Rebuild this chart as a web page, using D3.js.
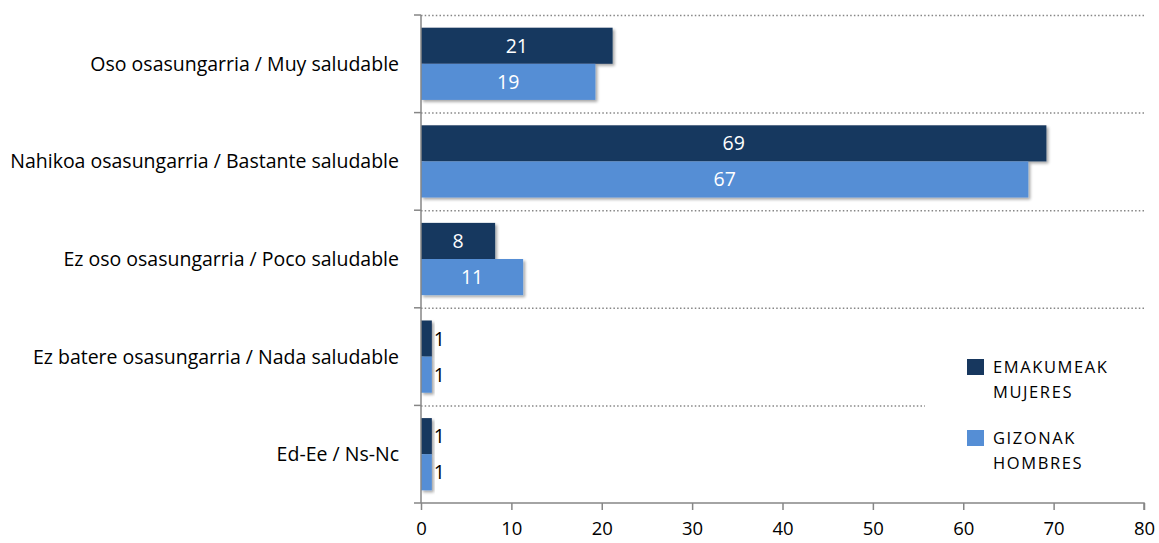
<!DOCTYPE html>
<html><head><meta charset="utf-8">
<script src="https://cdn.jsdelivr.net/npm/d3@7"></script>
<style>body{margin:0;background:#fff}svg{display:block}text{font-family:"Open Sans",sans-serif}</style>
</head><body>
<svg id="c" width="1159" height="543"></svg>
<script>
const categories = ["Oso osasungarria / Muy saludable","Nahikoa osasungarria / Bastante saludable","Ez oso osasungarria / Poco saludable","Ez batere osasungarria / Nada saludable","Ed-Ee / Ns-Nc"];
const seriesNames = ["EMAKUMEAK\nMUJERES","GIZONAK\nHOMBRES"];
const women = [21.2, 69.2, 8.2, 1.2, 1.2];
const men = [19.3, 67.2, 11.3, 1.2, 1.2];
const xTicks = [0,10,20,30,40,50,60,70,80];
const colors = ["#17375E","#558ED5"];

const svg = d3.select("#c");
const m = {l:421, r:1144, t:15, b:503};
const x = d3.scaleLinear().domain([0,80]).range([m.l, m.r]);
const y = d3.scaleBand().domain(categories).range([m.t, m.b]).paddingInner(0.26).paddingOuter(0.13);
const ys = d3.scaleBand().domain([0,1]).range([0, y.bandwidth()]);
const step = y.step();

const defs = svg.append("defs");
const f = defs.append("filter").attr("id","sh").attr("x","-10%").attr("y","-20%").attr("width","130%").attr("height","150%");
f.append("feGaussianBlur").attr("in","SourceAlpha").attr("stdDeviation",1.5);
f.append("feOffset").attr("dx",2).attr("dy",2).attr("result","o");
f.append("feComponentTransfer").append("feFuncA").attr("type","linear").attr("slope",0.35);
const mg = f.append("feMerge"); mg.append("feMergeNode"); mg.append("feMergeNode").attr("in","SourceGraphic");

const bounds = d3.range(categories.length+1).map(i => m.t + i*step);
svg.append("g").selectAll("line").data(bounds.slice(0,-1)).join("line")
  .attr("x1", m.l).attr("x2", (d,i)=> i===4 ? 925 : m.r)
  .attr("y1", d=>d+0.5).attr("y2", d=>d+0.5)
  .attr("stroke","#868686").attr("stroke-width",1.5).attr("stroke-dasharray","1.5,2.2");

const data = categories.map((c,i)=>({c, v:[women[i], men[i]]}));
const g = svg.append("g");
data.forEach(d=>{
  d.v.forEach((v,j)=>{
    const yy = y(d.c)+ys(j);
    g.append("rect").attr("x",x(0)).attr("y",yy).attr("width",x(v)-x(0)).attr("height",ys.bandwidth())
      .attr("fill",colors[j]).attr("filter","url(#sh)");
    const inside = v > 5;
    g.append("text").attr("x", inside ? (x(0)+x(v))/2 : x(v)+2).attr("y", yy+ys.bandwidth()/2)
      .attr("dy","0.36em").attr("text-anchor", inside?"middle":"start")
      .attr("fill", inside?"#fff":"#000").attr("font-size",19.5).text(d3.format(".0f")(v));
  });
});

const ax = svg.append("g").attr("transform",`translate(0,${m.b})`).call(d3.axisBottom(x).tickValues(xTicks).tickSize(7).tickPadding(12));
ax.select(".domain").attr("stroke","#868686").attr("stroke-width",1.5).attr("d",`M${m.l},0H${m.r}V7`);
ax.selectAll(".tick line").attr("stroke","#868686").attr("stroke-width",1.5);
ax.selectAll(".tick text").attr("font-size",18.5).attr("fill","#000").attr("font-family","Open Sans");

const yax = svg.append("g");
yax.append("line").attr("x1",m.l).attr("x2",m.l).attr("y1",m.t).attr("y2",m.b).attr("stroke","#868686").attr("stroke-width",1.5);
yax.selectAll("line.t").data(bounds).join("line").attr("class","t")
  .attr("x1",m.l-7).attr("x2",m.l).attr("y1",d=>d).attr("y2",d=>d).attr("stroke","#868686").attr("stroke-width",1.5);
yax.selectAll("text").data(categories).join("text")
  .attr("x",399).attr("y",d=>y(d)+y.bandwidth()/2).attr("dy","0.36em").attr("text-anchor","end")
  .attr("font-size",19.5).attr("fill","#000").text(d=>d);

const lg = svg.append("g");
lg.append("rect").attr("x",930).attr("y",340).attr("width",200).attr("height",145).attr("fill","#fff");
seriesNames.forEach((n,i)=>{
  const ly = 359 + i*71;
  lg.append("rect").attr("x",967).attr("y",ly).attr("width",17).attr("height",16).attr("fill",colors[i]);
  n.split("\n").forEach((t,k)=>{
    lg.append("text").attr("x",993).attr("y",ly+14+k*25).attr("font-size",16.5).attr("letter-spacing",1.6).attr("fill","#000").text(t);
  });
});
</script>
</body></html>
